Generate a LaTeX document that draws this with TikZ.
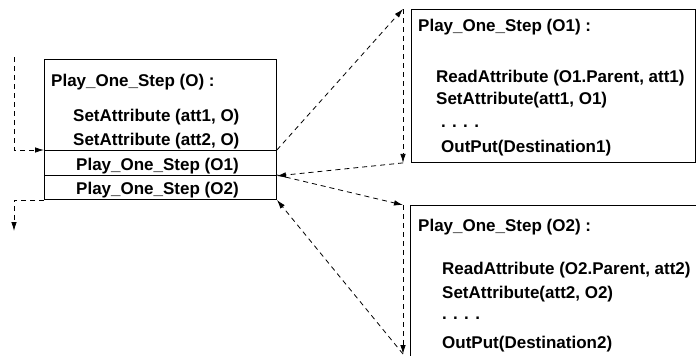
\documentclass[tikz,border=0pt]{standalone}
\usepackage{fontspec}
\setmainfont{Liberation Sans}
\usetikzlibrary{arrows.meta}

\begin{document}
\begin{tikzpicture}[x=1pt,y=-1pt,>={Latex[length=9pt,width=5.5pt]},
  font=\fontsize{17}{20}\selectfont\bfseries,
  frame/.style={draw,line width=0.9pt,inner sep=0pt,anchor=north west},
  txt/.style={anchor=base west,inner sep=0pt},
  link/.style={->,dash pattern=on 5pt off 4pt,line width=0.8pt}]
\useasboundingbox (0,0) rectangle (696,356);
% calling step
\node[frame,minimum width=232pt,minimum height=91pt] (main) at (44,59) {};
\node[frame,minimum width=232pt,minimum height=25pt] (row1) at (44,150) {};
\node[frame,minimum width=232pt,minimum height=24pt] (row2) at (44,175) {};
\node[txt] (m0) at (51,86) {Play\_One\_Step (O) :};
\node[txt] (m1) at (73,121) {SetAttribute (att1, O)};
\node[txt] (m2) at (73,145) {SetAttribute (att2, O)};
\node[txt] (m3) at (76,170) {Play\_One\_Step (O1)};
\node[txt] (m4) at (76,194) {Play\_One\_Step (O2)};
% called steps
\node[frame,minimum width=284pt,minimum height=153pt] (sub1) at (411,9) {};
\node[txt] (a0) at (418,31) {Play\_One\_Step (O1) :};
\node[txt] (a1) at (436,82) {ReadAttribute (O1.Parent, att1)};
\node[txt] (a2) at (436,104) {SetAttribute(att1, O1)};
\node[txt] (a3) at (441,127) {. . . .};
\node[txt] (a4) at (441,152) {OutPut(Destination1)};
\node[frame,minimum width=286pt,minimum height=170pt] (sub2) at (410,205) {};
\node[txt] (b0) at (418,231) {Play\_One\_Step (O2) :};
\node[txt] (b1) at (442,274) {ReadAttribute (O2.Parent, att2)};
\node[txt] (b2) at (442,298) {SetAttribute(att2, O2)};
\node[txt] (b3) at (442,319) {. . . .};
\node[txt] (b4) at (442,348) {OutPut(Destination2)};
% control flow
\coordinate (in) at (14,57);
\coordinate (out) at (14,231);
\coordinate (up1) at ([xshift=-8pt]sub1.north west);
\coordinate (dn1) at ([xshift=-8pt]sub1.south west);
\coordinate (up2) at ([xshift=-7pt]sub2.north west);
\coordinate (dn2) at (403,354);
\draw[link] (in) |- (row1.north west);
\draw[link] (row2.south west) -| (out);
\draw[link] (row1.north east) -- (up1);
\draw[link] (up1) -- (dn1);
\draw[link] (dn1) -- (row1.south east);
\draw[link] (row2.north east) -- (up2);
\draw[link] (up2) -- (dn2);
\draw[link] (dn2) -- (row2.south east);
\end{tikzpicture}
\end{document}
